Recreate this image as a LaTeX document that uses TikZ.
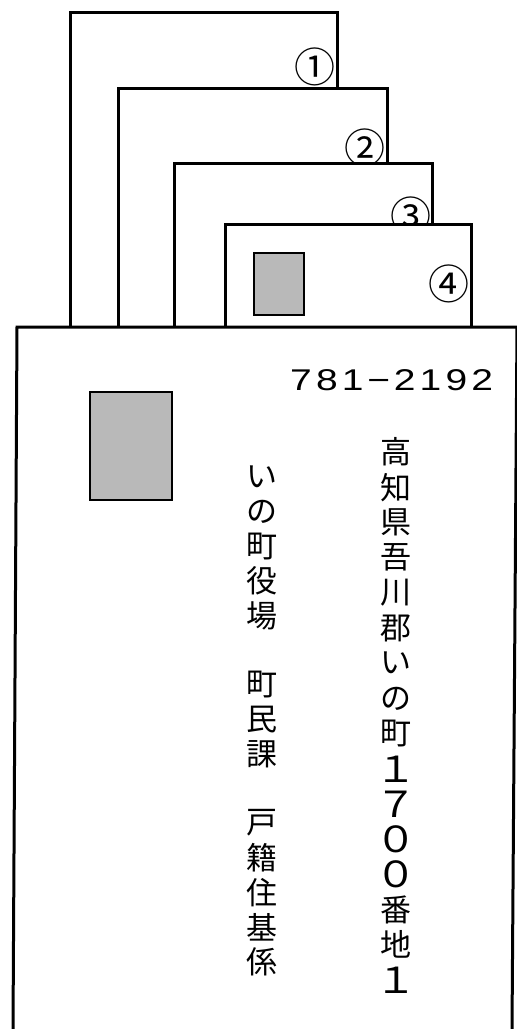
\documentclass[tikz,border=0pt]{standalone}
\usepackage{fontspec}
\newfontfamily\jpfont{Noto Sans CJK JP}
\newfontfamily\zipfont{Liberation Sans}
\definecolor{stampgray}{RGB}{185,185,185}

\begin{document}
\begin{tikzpicture}[x=1pt, y=-1pt, line width=3pt,
    stamp/.style={draw, line width=2.5pt, fill=stampgray},
    jp/.style={inner sep=0pt, font={\jpfont\fontsize{31}{31}\selectfont}},
    jpdigit/.style={inner sep=0pt, xscale=1.15, font={\jpfont\fontsize{36}{36}\selectfont}},
    circnum/.style={inner sep=0pt, font={\jpfont\fontsize{41}{41}\selectfont}},
    zip/.style={anchor=base, inner sep=0pt, xscale=1.3, font={\zipfont\fontsize{30}{30}\selectfont}}]
  \useasboundingbox (0,0) rectangle (517,1029);
  % stacked envelopes, back to front
  \foreach \l/\t/\r/\cx/\cy/\c [count=\n] in {70/12/337/315/67/①,118/88/387/365/148/②,174/163/432/411/216/③,225/224/471/449/284/④} {
    \draw[fill=white] (\l,328) -- (\l,\t) -- (\r,\t) -- (\r,328);
    \node[circnum] (num\n) at (\cx,\cy) {\c};
  }
  \draw[stamp] (254,253) rectangle (304,315);
  % front envelope
  \draw (13,1029) -- (17,327) -- (518,327);
  \draw (517,327) -- (512,1029);
  \draw[stamp] (90,392) rectangle (172,500);
  % postal code
  \foreach \c [count=\n] in {7,8,1,−,2,1,9,2} {
    \node[zip] (zip\n) at ({301+25.9*(\n-1)},390) {\c};
  }
  % address column
  \foreach \c/\s [count=\n] in {高/jp,知/jp,県/jp,吾/jp,川/jp,郡/jp,い/jp,の/jp,町/jp,１/jpdigit,７/jpdigit,０/jpdigit,０/jpdigit,番/jp,地/jp,１/jpdigit} {
    \node[\s] (addr\n) at (396,{452+35.2*(\n-1)}) {\c};
  }
  % addressee column
  \foreach \i/\c in {0/い,1/の,2/町,3/役,4/場,6/町,7/民,8/課,10/戸,11/籍,12/住,13/基,14/係} {
    \node[jp] (name\i) at (262,{477+34.6*\i}) {\c};
  }
\end{tikzpicture}
\end{document}
